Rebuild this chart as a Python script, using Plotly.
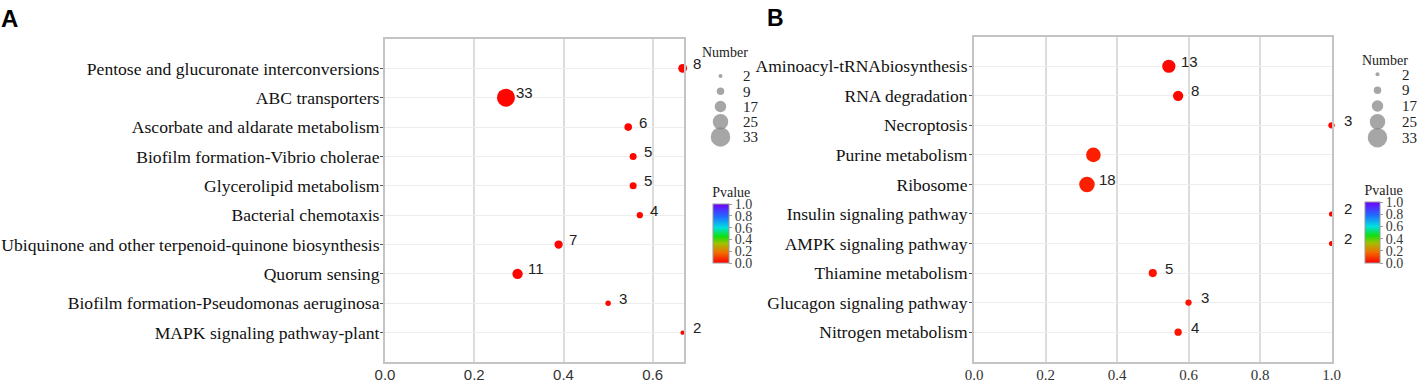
import plotly.graph_objects as go
import numpy as np

# ---------------- data ----------------
a_terms = ["Pentose and glucuronate interconversions", "ABC transporters",
           "Ascorbate and aldarate metabolism", "Biofilm formation-Vibrio cholerae",
           "Glycerolipid metabolism", "Bacterial chemotaxis",
           "Ubiquinone and other terpenoid-quinone biosynthesis", "Quorum sensing",
           "Biofilm formation-Pseudomonas aeruginosa", "MAPK signaling pathway-plant"]
a_ratio = [0.667, 0.271, 0.545, 0.556, 0.556, 0.571, 0.389, 0.297, 0.500, 0.667]
a_count = [8, 33, 6, 5, 5, 4, 7, 11, 3, 2]
a_pval = [0.01, 0.01, 0.01, 0.01, 0.01, 0.01, 0.01, 0.01, 0.01, 0.01]

b_terms = ["Aminoacyl-tRNAbiosynthesis", "RNA degradation", "Necroptosis",
           "Purine metabolism", "Ribosome", "Insulin signaling pathway",
           "AMPK signaling pathway", "Thiamine metabolism",
           "Glucagon signaling pathway", "Nitrogen metabolism"]
b_ratio = [0.545, 0.571, 1.0, 0.334, 0.316, 1.0, 1.0, 0.500, 0.600, 0.571]
b_count = [13, 8, 3, 16, 18, 2, 2, 5, 3, 4]
b_labels = ["13", "8", "3", "", "18", "2", "2", "5", "3", "4"]
b_pval = [0.01, 0.01, 0.01, 0.05, 0.05, 0.01, 0.01, 0.03, 0.03, 0.03]

legend_counts = [2, 9, 17, 25, 33]
a_xticks = [0.0, 0.2, 0.4, 0.6]
b_xticks = [0.0, 0.2, 0.4, 0.6, 0.8, 1.0]
cbar_ticks = [0.0, 0.2, 0.4, 0.6, 0.8, 1.0]

# ---------------- style ----------------
W, H = 1417, 380
SERIF = "Liberation Serif, Times New Roman, serif"
SANS = "Liberation Sans, Arial, sans-serif"
rainbow = [[0.0, "#FF0000"], [0.18, "#F07000"], [0.33, "#A0C000"], [0.45, "#10E010"],
           [0.6, "#00E0E0"], [0.78, "#1E6EFF"], [1.0, "#7000FF"]]

def fx(p):  # pixel x -> paper fraction
    return p / W

def fy(p):  # pixel y -> paper fraction
    return 1 - p / H

def px(x0, x1):
    return [fx(x0), fx(x1)]

def py(top, bottom):
    return [fy(bottom), fy(top)]

fig = go.Figure()

def main_panel(terms, ratio, count, pval, labels, xa, ya, cax, k, xshift):
    sizes = [k * np.sqrt(c) for c in count]
    fig.add_trace(go.Scatter(
        x=ratio, y=terms, mode="markers", xaxis=xa, yaxis=ya,
        marker=dict(size=sizes, sizemode="diameter", color=pval, coloraxis=cax,
                    line=dict(width=0), opacity=1),
        cliponaxis=False, showlegend=False, hoverinfo="skip"))
    for xv, yv, lab in zip(ratio, terms, labels):
        if lab == "":
            continue
        fig.add_annotation(x=xv, y=yv, xref=xa, yref=ya, text=lab, showarrow=False,
                           xanchor="left", yanchor="middle", xshift=xshift, yshift=5,
                           font=dict(family=SANS, size=15, color="#222222"))

main_panel(a_terms, a_ratio, a_count, a_pval, [str(c) for c in a_count],
           "x", "y", "coloraxis", 3.13, 8.5)
main_panel(b_terms, b_ratio, b_count, b_pval, b_labels,
           "x2", "y2", "coloraxis2", 3.65, 10.5)

# size legends
leg_sizes = [3 + 0.5 * c for c in legend_counts]
leg_cats = [str(c) for c in legend_counts]
for xa, ya in (("x3", "y3"), ("x4", "y4")):
    fig.add_trace(go.Scatter(
        x=[0.5] * len(legend_counts), y=leg_cats, mode="markers", xaxis=xa, yaxis=ya,
        marker=dict(size=leg_sizes, sizemode="diameter", color="#808080", line=dict(width=0)),
        cliponaxis=False, showlegend=False, hoverinfo="skip"))

grid_common = dict(showline=True, linecolor="#C4C4C4", linewidth=2, mirror=True,
                   zeroline=False, automargin=False)

def cbar(x0, top, bottom, thick):
    return dict(
        x=fx(x0), xanchor="left", xpad=0, ypad=0,
        y=fy(top), yanchor="top",
        len=bottom - top, lenmode="pixels", thickness=thick,
        outlinecolor="#9A9A9A", outlinewidth=1,
        tickvals=cbar_ticks, ticktext=[f"{t:.1f}" for t in cbar_ticks],
        ticks="outside", ticklen=3, tickcolor="#A0A0A0",
        tickfont=dict(family=SERIF, size=14, color="#3A3A3A"),
        title=dict(text="Pvalue", side="top", font=dict(family=SERIF, size=14, color="#222")))

def leg_yaxis(top, bottom, anchor, standoff):
    return dict(domain=py(top, bottom), type="category", categoryorder="array",
                categoryarray=leg_cats, range=[4.5, -0.5], side="right", anchor=anchor,
                tickmode="array", tickvals=leg_cats, ticktext=leg_cats,
                showgrid=False, showline=False, zeroline=False, automargin=False,
                ticks="outside", ticklen=standoff, tickcolor="rgba(0,0,0,0)",
                tickfont=dict(family=SERIF, size=15, color="#222222"))

fig.update_layout(
    width=W, height=H, margin=dict(l=0, r=0, t=0, b=0, autoexpand=False),
    paper_bgcolor="white", plot_bgcolor="white",
    xaxis=dict(domain=px(385, 684), range=[0, 0.67], tickvals=a_xticks,
               ticktext=[f"{t:.1f}" for t in a_xticks],
               showgrid=True, gridcolor="#DCDCDC", gridwidth=2, ticks="",
               ticklabelstandoff=-2,
               tickfont=dict(family=SANS, size=15, color="#333333"), anchor="y", **grid_common),
    yaxis=dict(domain=py(39, 362), type="category", categoryorder="array",
               categoryarray=a_terms, range=[10, -1],
               showgrid=True, gridcolor="#EDEDED", gridwidth=1,
               ticks="outside", ticklen=3, tickcolor="#555555", tickwidth=1,
               ticklabelstandoff=-3,
               tickfont=dict(family=SERIF, size=17.6, color="#111111"), anchor="x", **grid_common),
    xaxis2=dict(domain=px(974, 1331.5), range=[0, 1.0], tickvals=b_xticks,
                ticktext=[f"{t:.1f}" for t in b_xticks],
                showgrid=True, gridcolor="#DCDCDC", gridwidth=2, ticks="",
                ticklabelstandoff=-2,
                tickfont=dict(family=SERIF, size=15, color="#333333"), anchor="y2", **grid_common),
    yaxis2=dict(domain=py(36.7, 361.7), type="category", categoryorder="array",
                categoryarray=b_terms, range=[10, -1],
                showgrid=True, gridcolor="#EDEDED", gridwidth=1,
                ticks="outside", ticklen=3, tickcolor="#555555", tickwidth=1,
                ticklabelstandoff=-2,
                tickfont=dict(family=SERIF, size=17.5, color="#111111"), anchor="x2", **grid_common),
    xaxis3=dict(domain=px(710, 731), range=[0, 1], visible=False, anchor="y3", automargin=False),
    yaxis3=leg_yaxis(68.4, 144.6, "x3", 8),
    xaxis4=dict(domain=px(1367, 1388), range=[0, 1], visible=False, anchor="y4", automargin=False),
    yaxis4=leg_yaxis(66.4, 145.6, "x4", 10),
    coloraxis=dict(cmin=0, cmax=1, colorscale=rainbow, colorbar=cbar(712.7, 184, 263, 16)),
    coloraxis2=dict(cmin=0, cmax=1, colorscale=rainbow, colorbar=cbar(1365, 182, 263.3, 15)),
)

# panel letters and legend titles
fig.add_annotation(x=fx(-1), y=fy(3), xref="paper", yref="paper", text="<b>A</b>",
                   showarrow=False, xanchor="left", yanchor="top",
                   font=dict(family=SANS, size=24, color="black"))
fig.add_annotation(x=fx(765), y=fy(3), xref="paper", yref="paper", text="<b>B</b>",
                   showarrow=False, xanchor="left", yanchor="top",
                   font=dict(family=SANS, size=23, color="black"))
fig.add_annotation(x=fx(725.5), y=fy(53), xref="paper", yref="paper", text="Number",
                   showarrow=False, xanchor="center", yanchor="middle",
                   font=dict(family=SERIF, size=14, color="#222"))
fig.add_annotation(x=fx(1384.5), y=fy(60), xref="paper", yref="paper", text="Number",
                   showarrow=False, xanchor="center", yanchor="middle",
                   font=dict(family=SERIF, size=14, color="#222"))

# remove the default 8px page margin so the figure fills the window exactly
fig.write_html("out.html", config={"displayModeBar": False},
               post_script="document.body.style.margin='0px';document.body.style.overflow='hidden';")
